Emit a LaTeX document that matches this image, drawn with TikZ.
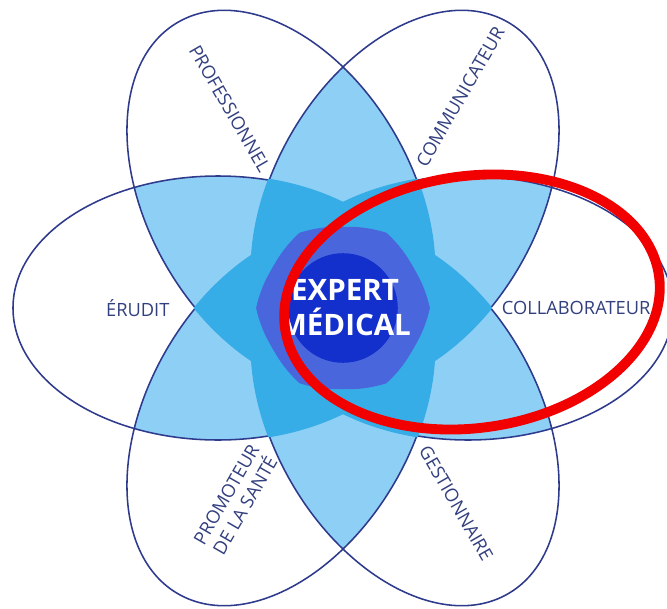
\documentclass[tikz,border=0pt]{standalone}
\usepackage{fontspec}
\setmainfont{Open Sans}
\usetikzlibrary{calc}

\definecolor{petalline}{HTML}{2E3A8C}
\definecolor{lens}{HTML}{8ECFF5}
\definecolor{band}{HTML}{36ADE6}
\definecolor{star}{HTML}{4A66DC}
\definecolor{heart}{HTML}{132FCC}
\definecolor{roletext}{HTML}{33407F}
\definecolor{ringred}{HTML}{F20000}

\tikzset{
  petal/.style={rotate=#1},
  role/.style={text=roletext, font=\fontsize{13}{15.5}\selectfont, align=center, inner sep=0pt},
  expert/.style={text=white, font=\fontsize{21}{25}\selectfont\bfseries, align=center, inner sep=0pt},
}

\begin{document}
\begin{tikzpicture}[line cap=round, line join=round]
  \useasboundingbox (-8.575, -7.5) rectangle (8.1, 7.7);
  \fill[white] (-8.575, -7.5) rectangle (8.1, 7.7);
  \clip (-8.575, -7.5) rectangle (8.1, 7.7);
  %--- two petals overlap
    \foreach \i [evaluate=\i as \jfirst using int(\i+1)] in {0,...,4} {
      \foreach \j in {\jfirst,...,5} {
        \begin{scope}
          \clip[petal=60*\i] (3.125, 0) ellipse [x radius=5.125, y radius=3.3];
          \fill[lens, petal=60*\j] (3.125, 0) ellipse [x radius=5.125, y radius=3.3];
        \end{scope}
      }
    }
  %--- petal outlines
    \foreach \a in {0, 60, ..., 300}
      \draw[petalline, line width=1.1pt, petal=\a] (3.125, 0) ellipse [x radius=5.125, y radius=3.3];
  %--- three petals overlap (a hair larger, so it hides the lines inside)
    \foreach \i [evaluate=\i as \jfirst using int(\i+1)] in {0,...,3} {
      \foreach \j [evaluate=\j as \kfirst using int(\j+1)] in {\jfirst,...,4} {
        \foreach \k in {\kfirst,...,5} {
          \begin{scope}
            \clip[petal=60*\i] (3.125, 0) ellipse [x radius=5.16, y radius=3.335];
            \clip[petal=60*\j] (3.125, 0) ellipse [x radius=5.16, y radius=3.335];
            \fill[band, petal=60*\k] (3.125, 0) ellipse [x radius=5.16, y radius=3.335];
          \end{scope}
        }
      }
    }
  %--- five petals overlap
    \foreach \s in {0, 60, ..., 300} {
      \begin{scope}
        \clip[petal=\s+60] (3.125, 0) ellipse [x radius=5.125, y radius=3.3];
        \clip[petal=\s+120] (3.125, 0) ellipse [x radius=5.125, y radius=3.3];
        \clip[petal=\s+180] (3.125, 0) ellipse [x radius=5.125, y radius=3.3];
        \clip[petal=\s+240] (3.125, 0) ellipse [x radius=5.125, y radius=3.3];
        \fill[star, petal=\s+300] (3.125, 0) ellipse [x radius=5.125, y radius=3.3];
      \end{scope}
    }
  %--- heart
    \fill[heart] (0, 0) circle (1.37);
  %--- roles
    \node[expert] (expert) at (0.05, 0) {EXPERT\\MÉDICAL};
    \node[role] (erudit) at (-5.13, 0) {ÉRUDIT};
    \node[role] (collaborateur) at (5.83, 0) {COLLABORATEUR};
    \node[role, rotate=-60] (professionnel) at (-2.83, 4.98) {PROFESSIONNEL};
    \node[role, rotate=60] (communicateur) at (2.93, 5.28) {COMMUNICATEUR};
    \node[role, rotate=-60] (gestionnaire) at (2.83, -4.88) {GESTIONNAIRE};
    \node[role, rotate=60] (promoteur) at (-2.68, -4.8) {PROMOTEUR\\DE LA SANTÉ};
  %--- red ring
    \draw[ringred, line width=7pt, rotate around={8:(3.225, 0.15)}] (3.225, 0.15) ellipse [x radius=4.72, y radius=3.15];
\end{tikzpicture}
\end{document}
